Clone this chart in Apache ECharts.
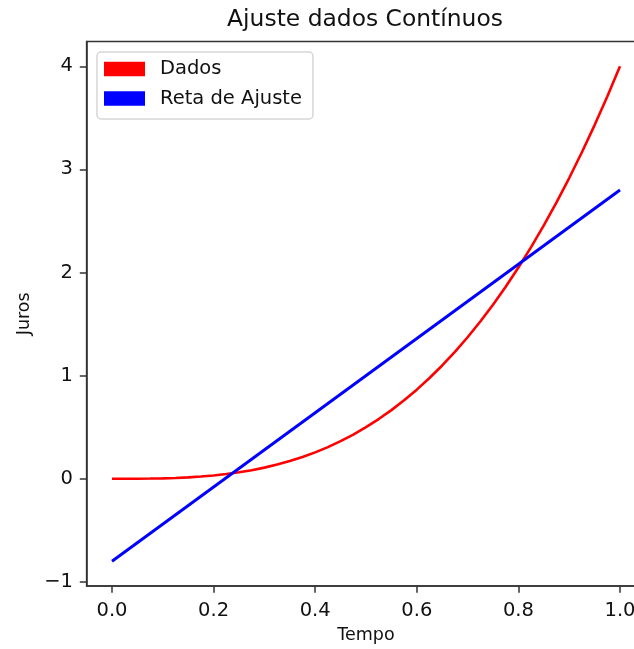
<!DOCTYPE html>
<html>
<head>
<meta charset="utf-8">
<script src="https://cdn.jsdelivr.net/npm/echarts@6/dist/echarts.min.js"></script>
<style>
html,body{margin:0;padding:0;background:#fff;}
#chart{width:634px;height:649px;}
</style>
</head>
<body>
<div id="chart"></div>
<script>
// Data
var tempo = [0, 0.025, 0.05, 0.075, 0.1, 0.125, 0.15, 0.175, 0.2, 0.225, 0.25, 0.275, 0.3, 0.325, 0.35, 0.375, 0.4, 0.425, 0.45, 0.475, 0.5,
             0.525, 0.55, 0.575, 0.6, 0.625, 0.65, 0.675, 0.7, 0.725, 0.75, 0.775, 0.8, 0.825, 0.85, 0.875, 0.9, 0.925, 0.95, 0.975, 1.0];
var dados = [0, 0.0001, 0.0005, 0.0017, 0.004, 0.0078, 0.0135, 0.0214, 0.032, 0.0456, 0.0625, 0.0832, 0.108, 0.1373, 0.1715, 0.2109, 0.256, 0.3071, 0.3645, 0.4287, 0.5,
             0.5788, 0.6655, 0.7604, 0.864, 0.9766, 1.0985, 1.2302, 1.372, 1.5243, 1.6875, 1.8619, 2.048, 2.2461, 2.4565, 2.6797, 2.916, 3.1658, 3.4295, 3.7074, 4.0];
var retaX = [0, 1];
var retaY = [-0.8, 2.8];
var xTicks = [0, 0.2, 0.4, 0.6, 0.8, 1.0];
var yTicks = [-1, 0, 1, 2, 3, 4];

var FONT = 'DejaVu Sans';
var dadosData = tempo.map(function (x, i) { return [x, dados[i]]; });
var retaData = retaX.map(function (x, i) { return [x, retaY[i]]; });

var chart = echarts.init(document.getElementById('chart'), null, {renderer: 'canvas'});
chart.setOption({
  animation: false,
  backgroundColor: '#ffffff',
  textStyle: {fontFamily: FONT},
  title: {
    text: 'Ajuste dados Contínuos',
    left: 365,
    top: 8,
    textAlign: 'center',
    padding: 0,
    textStyle: {fontFamily: FONT, fontSize: 23.4, fontWeight: 'normal', color: '#111'}
  },
  legend: {
    orient: 'vertical',
    left: 97,
    top: 52,
    padding: [7, 11, 10.5, 7],
    itemGap: 9.5,
    itemWidth: 41,
    itemHeight: 14.5,
    icon: 'rect',
    borderColor: '#d6d6d6',
    borderWidth: 1.5,
    borderRadius: 4,
    backgroundColor: 'rgba(255,255,255,0.8)',
    textStyle: {fontFamily: FONT, fontSize: 19.5, color: '#111', lineHeight: 20, padding: [0, 0, 0, 10]},
    data: ['Dados', 'Reta de Ajuste']
  },
  grid: {
    left: 86.6,
    top: 41.5,
    width: 558.8,
    height: 544.5,
    show: true,
    borderColor: '#333',
    borderWidth: 1.5,
    backgroundColor: 'transparent',
    containLabel: false,
    outerBoundsMode: 'none'
  },
  xAxis: {
    type: 'value',
    min: -0.05,
    max: 1.05,
    name: 'Tempo',
    nameLocation: 'middle',
    nameGap: 40,
    nameTextStyle: {fontFamily: FONT, fontSize: 17.5, color: '#111'},
    axisLine: {show: true, onZero: false, lineStyle: {color: '#333', width: 1.5}},
    axisTick: {show: true, inside: false, length: 6.8, customValues: xTicks, lineStyle: {color: '#333', width: 1.5}},
    axisLabel: {
      show: true, margin: 15, customValues: xTicks,
      fontFamily: FONT, fontSize: 19.5, color: '#111',
      formatter: function (v) { return v.toFixed(1); }
    },
    splitLine: {show: false}
  },
  yAxis: {
    type: 'value',
    min: -1.04,
    max: 4.24,
    name: 'Juros',
    nameLocation: 'middle',
    nameGap: 52,
    nameRotate: 90,
    nameTextStyle: {fontFamily: FONT, fontSize: 17.5, color: '#111'},
    axisLine: {show: true, onZero: false, lineStyle: {color: '#333', width: 1.5}},
    axisTick: {show: true, inside: false, length: 6.8, customValues: yTicks, lineStyle: {color: '#333', width: 1.5}},
    axisLabel: {
      show: true, margin: 13.6, customValues: yTicks,
      fontFamily: FONT, fontSize: 19.5, color: '#111',
      formatter: function (v) { return v < 0 ? '\u2212' + Math.abs(v) : String(v); }
    },
    splitLine: {show: false}
  },
  series: [
    {
      name: 'Dados',
      type: 'line',
      data: dadosData,
      showSymbol: false,
      symbol: 'none',
      smooth: false,
      itemStyle: {color: '#ff0000'},
      lineStyle: {color: '#ff0000', width: 2.6},
      z: 2
    },
    {
      name: 'Reta de Ajuste',
      type: 'line',
      data: retaData,
      showSymbol: false,
      symbol: 'none',
      itemStyle: {color: '#0000ff'},
      lineStyle: {color: '#0000ff', width: 2.9},
      z: 3
    }
  ]
});
</script>
</body>
</html>
